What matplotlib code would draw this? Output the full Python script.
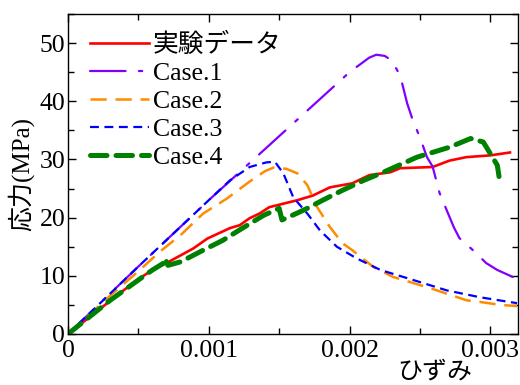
import matplotlib
matplotlib.use("Agg")
import matplotlib.pyplot as plt
from matplotlib.ticker import MultipleLocator

# 実験データ
exp_x = [0, 0.0002, 0.0004, 0.00051, 0.0006, 0.0007, 0.00089, 0.00099, 0.00115, 0.00122,
         0.00129, 0.00136, 0.00143, 0.00153, 0.00163, 0.00174, 0.00186, 0.00202, 0.00214,
         0.00229, 0.00236, 0.00259, 0.00271, 0.00283, 0.003, 0.00314]
exp_y = [0, 3.8, 7.6, 9.6, 11.0, 12.2, 14.7, 16.4, 18.2, 18.7,
         19.9, 20.7, 21.8, 22.4, 23.0, 23.8, 25.2, 25.9, 27.3,
         27.8, 28.5, 28.7, 29.8, 30.4, 30.7, 31.2]

case1_x = [0, 0.0005, 0.001, 0.0015, 0.002, 0.00214, 0.00219, 0.00225, 0.0023, 0.00236,
           0.00241, 0.00245, 0.0025, 0.00255, 0.00259, 0.00264, 0.00274, 0.00278, 0.0029,
           0.00297, 0.00305, 0.00316]
case1_y = [0, 11.6, 23.0, 34.0, 45.0, 47.5, 48.0, 47.8, 47.0, 44.4,
           39.6, 36.7, 33.8, 30.4, 28.8, 24.2, 18.4, 16.5, 13.9,
           12.2, 11.0, 9.8]

case2_x = [0, 0.0003, 0.00051, 0.00065, 0.0008, 0.00096, 0.00113, 0.00129, 0.0014, 0.00146,
           0.00155, 0.00163, 0.0017, 0.00177, 0.00186, 0.00195, 0.00202, 0.00217, 0.00231,
           0.00257, 0.00283, 0.00293, 0.00307, 0.00319]
case2_y = [0, 6.6, 11.0, 14.1, 17.0, 20.7, 23.3, 26.2, 28.0, 28.6,
           28.4, 27.6, 25.6, 21.8, 18.4, 15.6, 14.4, 11.5, 9.8,
           7.9, 5.8, 5.5, 5.0, 4.8]

case3_x = [0, 0.0005, 0.001, 0.00115, 0.00129, 0.00141, 0.00147, 0.00153, 0.0016, 0.0017,
           0.00179, 0.00191, 0.00205, 0.00222, 0.00245, 0.00269, 0.00293, 0.00319]
case3_y = [0, 11.6, 23.0, 26.4, 28.7, 29.5, 29.6, 27.6, 23.5, 20.7,
           17.8, 15.0, 13.0, 11.0, 9.3, 7.5, 6.3, 5.3]

case4_x = [0, 0.0003, 0.00053, 0.0006, 0.00068, 0.00069, 0.00071, 0.0008, 0.00096, 0.0011,
           0.00124, 0.00139, 0.0015, 0.00152, 0.00163, 0.0017, 0.00181, 0.00195, 0.0021,
           0.00224, 0.00248, 0.00271, 0.00286, 0.00295, 0.003, 0.00305, 0.00307]
case4_y = [0, 5.8, 9.8, 11.0, 12.2, 13.0, 11.8, 12.4, 14.4, 16.1,
           18.2, 20.4, 21.6, 19.6, 20.8, 21.6, 23.0, 24.7, 26.4,
           27.8, 30.4, 32.1, 33.6, 33.0, 31.0, 29.0, 25.8]

labels = ["実験データ", "Case.1", "Case.2", "Case.3", "Case.4"]
xticks = [0, 0.001, 0.002, 0.003]
xticklabels = ["0", "0.001", "0.002", "0.003"]
yticks = [0, 10, 20, 30, 40, 50]

fonts = ["Liberation Serif", "Noto Sans CJK JP"]
plt.rcParams["font.family"] = fonts

fig = plt.figure(figsize=(5.2, 3.85), dpi=100)
ax = fig.add_axes([0.1308, 0.1325, 0.8662, 0.8311])

ax.plot(exp_x, exp_y, color="#ff0000", lw=1.9, label=labels[0])
ax.plot(case1_x, case1_y, color="#8000ff", lw=1.6, linestyle=(0, (16, 6, 1.5, 6)),
        dash_capstyle="round", label=labels[1])
ax.plot(case2_x, case2_y, color="#ff8c00", lw=1.8, linestyle=(0, (6.5, 3.5)), label=labels[2])
ax.plot(case3_x, case3_y, color="#0000ff", lw=1.6, linestyle=(0, (4, 2.5)), label=labels[3])
ax.plot(case4_x, case4_y, color="#008000", lw=3.6, linestyle=(0, (3.3, 1.8)),
        dash_capstyle="round", label=labels[4])

ax.set_xlim(0, 0.0032)
ax.set_ylim(0, 55)
ax.set_xticks(xticks)
ax.set_xticklabels(xticklabels)
ax.set_yticks(yticks)
ax.xaxis.set_minor_locator(MultipleLocator(0.0005))
ax.yaxis.set_minor_locator(MultipleLocator(5))
ax.tick_params(which="both", direction="in", top=True, right=True, width=1.0,
               labelsize=18.5, pad=2)
ax.tick_params(axis="x", pad=4)
ax.tick_params(which="major", length=6)
ax.tick_params(which="minor", length=4.5)
for s in ax.spines.values():
    s.set_linewidth(1.0)

ax.text(0.815, -0.122, "ひずみ", transform=ax.transAxes, ha="center", va="center",
        fontsize=18)
fig.text(0.040, 0.548, "応力(MPa)", rotation=90, ha="center", va="center", fontsize=18)

ax.legend(loc="upper left", frameon=False, fontsize=18.5, handlelength=2.3,
          handletextpad=0.15, labelspacing=0.2, borderaxespad=0.0, borderpad=0.4,
          bbox_to_anchor=(0.025, 0.975))

fig.savefig("out.png", dpi=100)
